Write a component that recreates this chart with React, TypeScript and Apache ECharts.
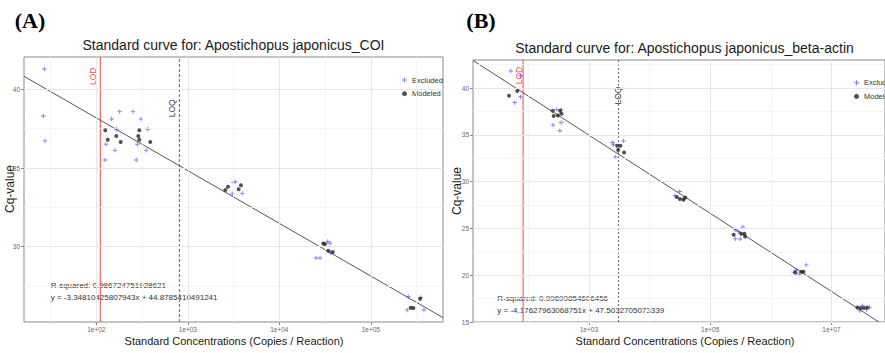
import React, { useEffect, useRef } from "react";
import * as echarts from "echarts";

// ---------- texts ----------
const panelTitles = [
  "Standard curve for: Apostichopus japonicus_COI",
  "Standard curve for: Apostichopus japonicus_beta-actin",
];
const panelTags = ["(A)", "(B)"];
const xAxisTitle = "Standard Concentrations (Copies / Reaction)";
const yAxisTitle = "Cq-value";
const legendNames = ["Excluded", "Modeled"];

// ---------- panel A (COI) : x = log10(copies / reaction), y = Cq ----------
const excludedA_logConc = [1.432, 1.421, 1.439, 2.256, 2.401, 2.168, 2.489, 2.219, 2.562, 2.106, 2.448, 2.204, 2.546, 2.095, 2.437, 3.497, 3.519, 3.486, 3.596, 4.529, 4.554, 4.402, 4.445, 4.56, 5.41, 5.546, 5.399, 5.581];
const excludedA_cq = [41.29, 38.3, 36.72, 38.58, 38.58, 38.11, 38.11, 37.46, 37.46, 36.51, 36.51, 36.12, 36.12, 35.51, 35.51, 34.09, 34.13, 33.37, 33.39, 30.33, 30.22, 29.28, 29.28, 29.62, 26.82, 26.78, 25.98, 25.98];
const modeledA_logConc = [2.098, 2.125, 2.219, 2.267, 2.47, 2.459, 2.47, 2.59, 3.41, 3.439, 3.556, 3.581, 4.48, 4.499, 4.535, 4.584, 5.436, 5.465, 5.538];
const modeledA_cq = [37.4, 36.8, 37.03, 36.65, 37.4, 37.03, 36.8, 36.65, 33.6, 33.81, 33.65, 33.9, 30.2, 30.17, 29.75, 29.66, 26.12, 26.11, 26.7];

// ---------- panel B (beta-actin) ----------
const excludedB_logConc = [1.712, 1.873, 1.776, 1.873, 2.469, 2.543, 2.409, 2.543, 2.522, 3.386, 3.568, 3.435, 3.407, 4.498, 4.556, 4.42, 5.415, 5.538, 5.415, 5.496, 5.47, 6.419, 6.585, 6.47, 6.38, 7.47, 7.578, 7.631, 7.514];
const excludedB_cq = [41.82, 41.31, 38.46, 39.07, 37.68, 37.68, 36.05, 36.32, 35.44, 34.19, 34.34, 32.63, 33.94, 28.95, 28.06, 28.5, 24.86, 25.15, 23.9, 23.87, 24.65, 20.56, 21.1, 20.11, 20.32, 16.21, 16.32, 16.56, 16.74];
const modeledB_logConc = [1.684, 1.818, 2.404, 2.42, 2.49, 2.527, 2.549, 3.467, 3.52, 3.483, 3.58, 4.45, 4.5, 4.56, 4.59, 5.388, 5.512, 5.565, 5.576, 6.407, 6.504, 6.54, 7.428, 7.481, 7.535, 7.589];
const modeledB_cq = [39.18, 39.68, 37.57, 37.01, 37.07, 37.57, 37.25, 33.84, 33.84, 33.38, 33.12, 28.35, 28.15, 28.1, 28.3, 24.33, 24.43, 24.43, 24.14, 20.3, 20.37, 20.37, 16.56, 16.5, 16.5, 16.56];

// ---------- fits, limits ----------
const fitSlope = [-3.34810425807943, -4.17627963068751];
const fitIntercept = [44.8785410491241, 47.5032705073339];
const rSquared = [0.986724751928621, 0.99699854606456];
const lodLogConc = [2.044, 1.915];
const loqLogConc = [2.908, 3.49];

// ---------- axes ----------
const xMin = [1.21, 1.089];
const xMax = [5.789, 7.884];
const yMin = [25.22, 15];
const yMax = [42.05, 43.0];
const xMajorTicksA = [2, 3, 4, 5];
const xMinorTicksA = [1.5, 2.5, 3.5, 4.5, 5.5];
const yMajorTicksA = [30, 35, 40];
const yMinorTicksA = [27.5, 32.5, 37.5];
const xMajorTicksB = [3, 5, 7];
const xMinorTicksB = [2, 4, 6, 8];
const yMajorTicksB = [15, 20, 25, 30, 35, 40];
const yMinorTicksB = [17.5, 22.5, 27.5, 32.5, 37.5, 42.5];

const SANS = "Liberation Sans, Arial, Helvetica, sans-serif";
const SERIF = "Liberation Serif, Times New Roman, serif";
const PLUS = "path://M4,0H6V4H10V6H6V10H4V6H0V4H4Z";
const BLUE = "rgba(55,55,255,0.8)";
const DOT = "#262626";

const zip = (a: number[], b: number[]) => a.map((v, i) => [v, b[i]]);
const fmtLog = (v: number) => "1e+" + String(Math.round(v)).padStart(2, "0");

export default function App() {
  const ref = useRef<HTMLDivElement>(null);

  useEffect(() => {
    if (!ref.current) return;
    const chart = echarts.init(ref.current, undefined, { renderer: "svg" });

    const grids = [
      { left: 24, top: 57, width: 419, height: 265 },
      { left: 473, top: 60, width: 422, height: 262 },
    ];
    const xMaj = [xMajorTicksA, xMajorTicksB];
    const xMin2 = [xMinorTicksA, xMinorTicksB];
    const yMaj = [yMajorTicksA, yMajorTicksB];
    const yMin2 = [yMinorTicksA, yMinorTicksB];
    const excluded = [zip(excludedA_logConc, excludedA_cq), zip(excludedB_logConc, excludedB_cq)];
    const modeled = [zip(modeledA_logConc, modeledA_cq), zip(modeledB_logConc, modeledB_cq)];

    const series: any[] = [];
    const vline = (i: number, x: number, lineStyle: any, z: number) => ({
      type: "line",
      xAxisIndex: i,
      yAxisIndex: i,
      z,
      silent: true,
      showSymbol: false,
      symbol: "none",
      lineStyle,
      data: [
        [x, yMin[i]],
        [x, yMax[i]],
      ],
    });
    [0, 1].forEach((i) => {
      const major = { color: "#E6E6E6", width: 1, type: "solid" };
      const minor = { color: "#F3F3F3", width: 0.8, type: "solid" };
      series.push({
        type: "line",
        xAxisIndex: i,
        yAxisIndex: i,
        data: [],
        z: 1,
        silent: true,
        markLine: {
          silent: true,
          symbol: ["none", "none"],
          label: { show: false },
          animation: false,
          data: [
            ...xMin2[i].map((v) => ({ xAxis: v, lineStyle: minor })),
            ...yMin2[i].map((v) => ({ yAxis: v, lineStyle: minor })),
            ...xMaj[i].map((v) => ({ xAxis: v, lineStyle: major })),
            ...yMaj[i].map((v) => ({ yAxis: v, lineStyle: major })),
          ],
        },
      });
      series.push(vline(i, lodLogConc[i], { color: "#FF4545", width: 1, type: "solid" }, 2));
      series.push(vline(i, loqLogConc[i], { color: "#666666", width: 1, type: i === 0 ? [3, 2] : [2, 2] }, 2));
      series.push({
        type: "line",
        xAxisIndex: i,
        yAxisIndex: i,
        z: 3,
        silent: true,
        showSymbol: false,
        symbol: "none",
        lineStyle: { color: "#555", width: 1 },
        data: [xMin[i], xMax[i]].map((x) => [x, fitSlope[i] * x + fitIntercept[i]]),
      });
      series.push({
        name: legendNames[0],
        type: "scatter",
        xAxisIndex: i,
        yAxisIndex: i,
        z: 4,
        symbol: PLUS,
        symbolSize: 4.5,
        itemStyle: { color: BLUE },
        data: excluded[i],
      });
      series.push({
        name: legendNames[1],
        type: "scatter",
        xAxisIndex: i,
        yAxisIndex: i,
        z: 5,
        symbol: "circle",
        symbolSize: 4,
        itemStyle: { color: DOT },
        data: modeled[i],
      });
    });

    const axisLabelStyle = { fontSize: 6.5, color: "#666", fontFamily: SANS };
    const tickStyle = { color: "#888", width: 1 };

    const graphic: any[] = [];
    const text = (t: string, x: number, y: number, o: any = {}) => ({
      type: "text",
      x,
      y,
      rotation: o.rotation || 0,
      silent: true,
      style: {
        text: t,
        fill: o.fill || "#222",
        fontSize: o.fontSize || 8,
        fontFamily: o.fontFamily || SANS,
        fontWeight: o.fontWeight || "normal",
        align: o.align || "center",
        verticalAlign: "middle",
      },
    });
    const titleXY = [[233.5, 45], [684.5, 48]];
    const tagX = [30, 481];
    const xTitleXY = [[234, 341], [685, 341]];
    const yTitleXY = [[10, 189], [456.5, 191]];
    const lodXY = [[92.5, 76.3], [519, 75.5]];
    const loqXY = [[171.7, 108.3], [617.5, 95.5]];
    const r2XY = [[50.7, 285, 297], [497.3, 298.3, 310]];
    [0, 1].forEach((i) => {
      graphic.push(text(panelTags[i], tagX[i], 20, { fontSize: 22, fontWeight: "bold", fontFamily: SERIF, fill: "#000" }));
      graphic.push(text(panelTitles[i], titleXY[i][0], titleXY[i][1], { fontSize: 14, fill: "#1a1a1a" }));
      graphic.push(text(xAxisTitle, xTitleXY[i][0], xTitleXY[i][1], { fontSize: 11, fill: "#1a1a1a" }));
      graphic.push(text(yAxisTitle, yTitleXY[i][0], yTitleXY[i][1], { fontSize: 12, fill: "#1a1a1a", rotation: Math.PI / 2 }));
      graphic.push(text("LOD", lodXY[i][0], lodXY[i][1], { fontSize: 8.5, fill: "#FF4545", rotation: Math.PI / 2 }));
      graphic.push(text("LOQ", loqXY[i][0], loqXY[i][1], { fontSize: 8.5, fill: "#333", rotation: Math.PI / 2 }));
      graphic.push(text("R-squared: " + String(rSquared[i]), r2XY[i][0], r2XY[i][1], { align: "left", fontSize: 8, fill: "#333" }));
      graphic.push(
        text("y = " + String(fitSlope[i]) + "x + " + String(fitIntercept[i]), r2XY[i][0], r2XY[i][2], {
          align: "left",
          fontSize: 8,
          fill: "#333",
        })
      );
    });

    const legendPos = [
      { left: 397, top: 71 },
      { left: 849, top: 73.7 },
    ];

    chart.setOption({
      animation: false,
      grid: grids.map((g) => ({ ...g, show: true, borderColor: "#8a8a8a", borderWidth: 1, backgroundColor: "transparent" })),
      xAxis: [0, 1].map((i) => ({
        type: "value",
        gridIndex: i,
        min: xMin[i],
        max: xMax[i],
        axisLine: { show: false },
        splitLine: { show: false },
        axisTick: { show: true, length: 3, customValues: xMaj[i], lineStyle: tickStyle },
        axisLabel: { ...axisLabelStyle, customValues: xMaj[i], margin: 4, formatter: (v: number) => fmtLog(v) },
      })),
      yAxis: [0, 1].map((i) => ({
        type: "value",
        gridIndex: i,
        min: yMin[i],
        max: yMax[i],
        axisLine: { show: false },
        splitLine: { show: false },
        axisTick: { show: true, length: 3, customValues: yMaj[i], lineStyle: tickStyle },
        axisLabel: { ...axisLabelStyle, customValues: yMaj[i], margin: 4, formatter: (v: number) => String(v) },
      })),
      legend: legendPos.map((p) => ({
        ...p,
        orient: "vertical",
        data: [
          { name: legendNames[0], icon: PLUS, itemStyle: { color: BLUE } },
          { name: legendNames[1], icon: "circle", itemStyle: { color: DOT } },
        ],
        itemWidth: 5,
        itemHeight: 5,
        itemGap: 5.7,
        selectedMode: false,
        textStyle: { fontSize: 7.5, color: "#333", fontFamily: SANS, lineHeight: 8 },
      })),
      series,
      graphic,
    });

    return () => chart.dispose();
  }, []);

  return <div ref={ref} style={{ position: "fixed", left: 0, top: 0, width: 885, height: 353, background: "#fff" }} />;
}
